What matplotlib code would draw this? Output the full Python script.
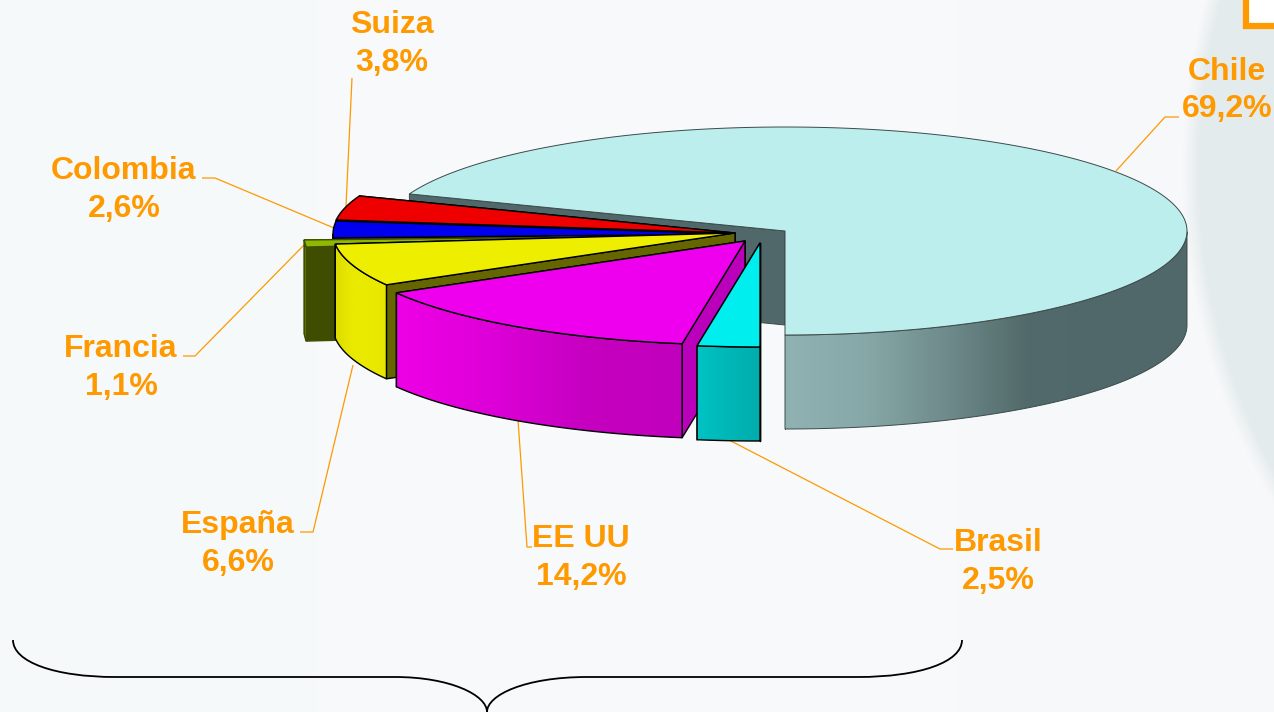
import numpy as np
import matplotlib
matplotlib.use("Agg")
from matplotlib import pyplot as plt
from matplotlib.colors import LinearSegmentedColormap
from matplotlib.patches import Polygon, PathPatch, Circle, Rectangle
from matplotlib.path import Path

plt.rcParams["font.family"] = ["Liberation Sans", "DejaVu Sans"]

# Chart data, counter-clockwise from the bottom of the pie
LABELS = ["Chile", "Suiza", "Colombia", "Francia", "España", "EE UU", "Brasil"]
SHARES = [69.2, 3.8, 2.6, 1.1, 6.6, 14.2, 2.5]

# Look of the slices
CENTERS = [(785, 231), (735, 233), (735, 234), (706, 236), (735, 233), (745, 241), (760, 243)]
TOPS = ["#bdeeee", "#ee0000", "#0000ee", "#8fb800", "#eeee00", "#ee00ee", "#00eeee"]
CUTS = ["#51686a", "#990000", "#000099", "#3f4d00", "#666600", "#bb00bb", "#009999"]
RIMS = [
    ["#90b2b2", "#87a8a8", "#6f8b8b", "#526a6a", "#50686a", "#50686a"],
    ["#aa0000", "#aa0000"],
    ["#0000aa", "#0000aa"],
    ["#6f8f00", "#6f8f00"],
    ["#dcdc00", "#eaea00", "#eaea00", "#e6e600"],
    ["#ee00e6", "#dd00d8", "#c600c0", "#c000bc"],
    ["#00c4c4", "#00baba", "#00b4b4", "#00acac"],
]
EDGES = ["#3c4a4a", "black", "black", "#3f4d00", "black", "black", "black"]
WIDTHS = [0.7, 1.0, 1.0, 1.0, 1.0, 1.0, 1.0]
RX, RY, DEPTH = 402, 104, 94
START = -90
ORANGE = "#ff9900"

# Label position and leader line of each slice
LABEL_POS = [(1227, 72), (392, 25), (124, 171), (121, 349), (238, 525), (581, 539), (998, 543)]
LEADERS = [
    [(1116, 171), (1165, 117), (1179, 117)],
    [(346, 206), (352, 78)],
    [(334, 228), (215, 178), (202, 178)],
    [(304, 245), (195, 356), (183, 356)],
    [(353, 365), (313, 532), (300, 532)],
    [(518, 420), (527, 547), (532, 547)],
    [(729, 440), (940, 549), (953, 549)],
]

fig = plt.figure(figsize=(12.74, 7.12), dpi=100)
ax = fig.add_axes([0, 0, 1, 1])
ax.axis("off")

# Background
bg = LinearSegmentedColormap.from_list("bg", ["#f6f9fa", "#f8fafb", "#f6f8f9"])
ax.imshow(np.linspace(0, 1, 64).reshape(1, -1), cmap=bg, extent=(0, 1274, 712, 0),
          aspect="auto", zorder=0)
for r, alpha in zip(np.arange(652, 628, -3), [0.1, 0.15, 0.2, 0.3, 0.4, 0.55, 0.75, 1.0]):
    ax.add_patch(Circle((1835, 170), r, fc="#e3ebec", ec="none", alpha=alpha, zorder=1))
ax.add_patch(Rectangle((1246, -6), 40, 32, fc="white", ec=ORANGE, lw=4.5, zorder=2))

# Slices, back to front
angle = START
z = 3
for i, share in enumerate(SHARES):
    sweep = share * 3.6
    cx, cy = CENTERS[i]
    t = np.radians(np.linspace(angle, angle + sweep, 240))
    xs = cx + RX * np.cos(t)
    ys = cy - RY * np.sin(t)
    edge = EDGES[i]
    lw = WIDTHS[i]

    # cut faces
    for k in (0, -1):
        face = [(cx, cy), (xs[k], ys[k]), (xs[k], ys[k] + DEPTH), (cx, cy + DEPTH)]
        ax.add_patch(Polygon(face, fc=CUTS[i], ec=edge, lw=lw, zorder=z, joinstyle="round"))

    # outer rim, only the part that faces the viewer
    front = np.sin(t) <= 0
    if front.any():
        rx, ry = xs[front], ys[front]
        outline = np.column_stack([np.r_[rx, rx[::-1]], np.r_[ry, ry[::-1] + DEPTH]])
        rim = Polygon(outline, fc="none", ec=edge, lw=lw, zorder=z + 0.2)
        ax.add_patch(rim)
        cmap = LinearSegmentedColormap.from_list("rim%d" % i, RIMS[i])
        x0, x1 = rx.min(), rx.max()
        grad = ax.imshow(np.linspace(0, 1, 256).reshape(1, -1), cmap=cmap,
                         extent=(x0, x1, ry.max() + DEPTH, ry.min()),
                         aspect="auto", zorder=z + 0.1)
        grad.set_clip_path(rim)

    # top
    top = np.column_stack([np.r_[cx, xs], np.r_[cy, ys]])
    ax.add_patch(Polygon(top, fc=TOPS[i], ec=edge, lw=lw, zorder=z + 0.3))

    angle += sweep
    z += 1

# Labels and leader lines
for i, label in enumerate(LABELS):
    lx, ly = zip(*LEADERS[i])
    ax.plot(lx, ly, color=ORANGE, lw=0.9, zorder=2.5, solid_capstyle="butt")
    px, py = LABEL_POS[i]
    value = ("%.1f%%" % SHARES[i]).replace(".", ",")
    ax.text(px, py, label, color=ORANGE, fontsize=23, fontweight="bold",
            ha="center", va="center", zorder=20)
    ax.text(px, py + 37.5, value, color=ORANGE, fontsize=23, fontweight="bold",
            ha="center", va="center", zorder=20)

# Brace under the pie
brace = [
    (13, 640), (13, 662), (55, 677), (115, 677), (395, 677),
    (450, 677), (487, 695), (487, 712),
    (487, 695), (525, 677), (587, 677), (858, 677),
    (920, 677), (962, 662), (962, 640),
]
codes = [Path.MOVETO, Path.CURVE4, Path.CURVE4, Path.CURVE4, Path.LINETO,
         Path.CURVE4, Path.CURVE4, Path.CURVE4,
         Path.CURVE4, Path.CURVE4, Path.CURVE4, Path.LINETO,
         Path.CURVE4, Path.CURVE4, Path.CURVE4]
ax.add_patch(PathPatch(Path(brace, codes), fc="none", ec="black", lw=1.3, zorder=20))

ax.set_xlim(0, 1274)
ax.set_ylim(712, 0)
fig.savefig("out.png", dpi=100)
